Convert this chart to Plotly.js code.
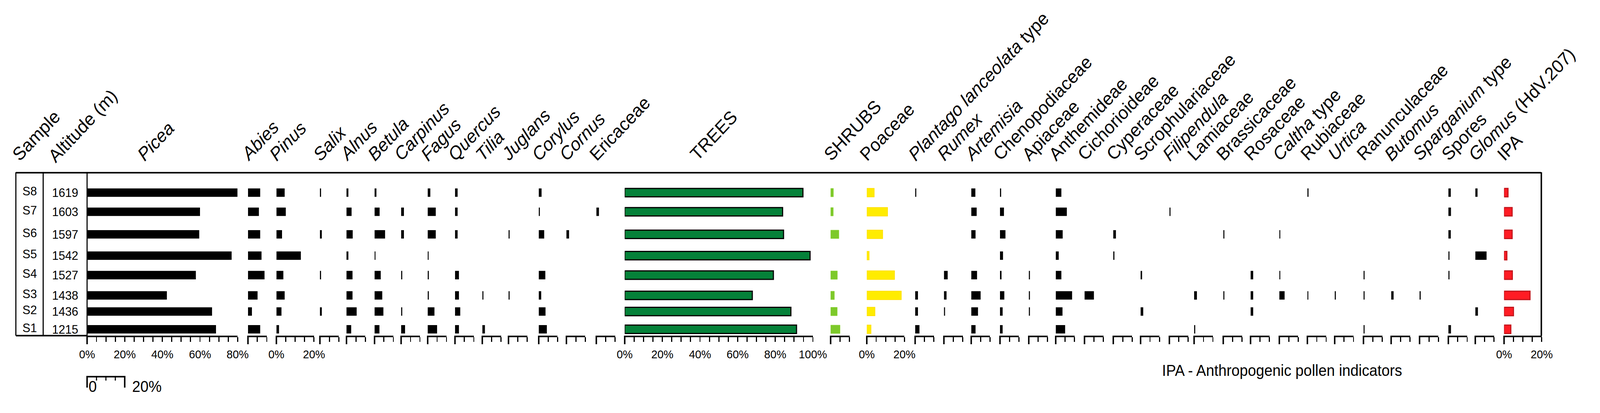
<!DOCTYPE html>
<html><head><meta charset="utf-8">
<script src="https://cdn.plot.ly/plotly-3.0.1.min.js"></script>
<style>html,body{margin:0;padding:0;background:#fff;overflow:hidden}#chart{transform-origin:0 0}</style>
</head><body><div id="chart" style="width:4336px;height:1057px"></div>
<script>
// ---- data (rows top to bottom: S8 ... S1) ----
const samples   = ['S8','S7','S6','S5','S4','S3','S2','S1'];
const altitudes = ['1619','1603','1597','1542','1527','1438','1436','1215'];
const rowPos    = [1.06, 2.06, 3.24, 4.35, 5.37, 6.43, 7.27, 8.2];

const picea     = [79.9,60,59.6,76.8,57.8,42.4,66.4,68.5];
const abies     = [6.5,5.8,6.5,7.2,8.8,5.1,2.1,6.5];
const pinus     = [4.4,5,3,13,3.7,4.4,2.7,1.4];
const salix     = [0.6,null,1,null,0.6,null,1,null];
const alnus     = [1,2.7,3.3,1,3.2,3.2,5.4,2.5];
const betula    = [1,2.7,5.6,0.5,3.3,4.1,4.7,2.6];
const carpinus  = [null,1.5,1.5,null,0.6,null,0.6,2.1];
const fagus     = [1.4,4.3,4.3,0.5,0.6,0.6,3.6,5];
const quercus   = [1.4,1.4,1.4,null,2.1,2.1,2.8,2.1];
const tilia     = [null,null,null,null,null,0.6,null,1.4];
const juglans   = [null,null,0.6,null,null,0.6,null,null];
const corylus   = [1.5,0.6,2.9,null,3.5,1.3,3.6,4.3];
const cornus    = [null,null,1.4,null,null,null,null,null];
const ericaceae = [null,1.4,null,null,null,null,null,null];
const trees     = [94.7,83.9,84.4,98.5,79,67.8,88.3,91.3];
const shrubs    = [1.5,1.4,4.4,null,3.6,2,3.5,5];
const poaceae   = [3.9,11,8.4,1.2,14.7,18.3,4.3,2.2];
const plantago  = [0.6,null,null,null,null,1.5,1.5,2.3];
const rumex     = [null,null,null,null,2,1.4,0.6,null];
const artemisia = [2.2,2.9,2.3,null,3.1,5,3.6,2.3];
const chenopod  = [0.6,2.1,2.9,1.6,0.8,2.3,1.4,1.4];
const apiaceae  = [null,null,null,null,0.6,0.6,0.6,null];
const anthemid  = [3,5.9,3.7,1.6,3,8.7,3.6,5];
const cichorio  = [null,null,null,null,null,5,null,null];
const cyperac   = [null,null,1.4,0.6,null,null,null,null];
const scrophul  = [null,null,null,null,0.8,null,1.4,null];
const filipend  = [null,0.6,null,null,null,null,null,null];
const lamiac    = [null,null,null,null,null,1.5,null,0.6];
const brassic   = [null,null,0.6,null,null,0.6,null,null];
const rosac     = [null,null,null,null,1.4,1.4,1.4,null];
const caltha    = [null,null,0.5,null,0.5,2.8,null,null];
const rubiac    = [0.6,null,null,null,null,0.5,null,null];
const urtica    = [null,null,null,null,null,0.6,null,null];
const ranunc    = [null,null,null,null,0.6,0.6,null,0.6];
const butomus   = [null,null,null,null,null,1.3,null,null];
const sparg     = [null,null,null,null,null,0.6,null,null];
const spores    = [1.3,1.4,1.3,0.6,0.6,null,null,1.4];
const glomus    = [1.2,null,null,6,null,null,1.4,null];
const ipa       = [2.1,4.3,4.3,1.5,4.4,13.8,5,3.6];

const taxaLabels = ['<i>Picea</i>','<i>Abies</i>','<i>Pinus</i>','<i>Salix</i>','<i>Alnus</i>','<i>Betula</i>','<i>Carpinus</i>','<i>Fagus</i>','<i>Quercus</i>','<i>Tilia</i>','<i>Juglans</i>','<i>Corylus</i>','<i>Cornus</i>','Ericaceae','TREES','SHRUBS','Poaceae','<i>Plantago lanceolata</i> type','<i>Rumex</i>','<i>Artemisia</i>','Chenopodiaceae','Apiaceae','Anthemideae','Cichorioideae','Cyperaceae','Scrophulariaceae','<i>Filipendula</i>','Lamiaceae','Brassicaceae','Rosaceae','<i>Caltha</i> type','Rubiaceae','<i>Urtica</i>','Ranunculaceae','<i>Butomus</i>','<i>Sparganium</i> type','Spores','<i>Glomus</i> (HdV.207)','IPA'];
const taxaValues = [picea,abies,pinus,salix,alnus,betula,carpinus,fagus,quercus,tilia,juglans,corylus,cornus,ericaceae,trees,shrubs,poaceae,plantago,rumex,artemisia,chenopod,apiaceae,anthemid,cichorio,cyperac,scrophul,filipend,lamiac,brassic,rosac,caltha,rubiac,urtica,ranunc,butomus,sparg,spores,glomus,ipa];
const axisMax  = [80,10,20,10,10,10,10,10,10,10,10,10,10,10,100,10,20,10,10,10,10,10,10,10,10,10,10,10,10,10,10,10,10,10,10,10,10,10,20];
const labelled = {0:20,2:20,14:20,16:20,38:20};

// ---- layout geometry (pixels) ----
const W=4336,H=1057, TOP=441, BOT=859, PXPCT=5.1;
const starts=[236,672,749,867,939,1015,1087,1159,1233,1307,1378,1460,1535,1616,1693,2251,2349,2480,2558,2632,2710,2788,2861,2939,3017,3091,3169,3236,3315,3389,3467,3543,3617,3695,3770,3847,3925,3998,4076];
const fills={14:['#058139','#000',3],15:['#7dc92a','#8fd43a',1],16:['#ffec00','#ffe000',2],38:['#ff1c24','#c3161c',3]};
const px=v=>v/W, py=v=>1-v/H;
const FONT='Liberation Sans, Arial, sans-serif';

const traces=[], layout={width:W,height:H,margin:{l:0,r:0,t:0,b:0},showlegend:false,autosize:false,
  paper_bgcolor:'#fff',plot_bgcolor:'rgba(0,0,0,0)',font:{family:FONT,color:'#000'},
  yaxis:{domain:[py(BOT),py(TOP)],range:[8.53,0],visible:false,fixedrange:true},
  shapes:[],annotations:[]};

taxaValues.forEach((vals,i)=>{
  const n=i+1, ax='x'+(n===1?'':n), key='xaxis'+(n===1?'':n);
  const w=axisMax[i]*PXPCT, s=starts[i];
  const f=fills[i]||['#000','#000',0];
  traces.push({type:'bar',orientation:'h',x:vals,y:rowPos,width:0.44,xaxis:ax,yaxis:'y',
    marker:{color:f[0],line:{color:f[1],width:f[2]}},hoverinfo:'x'});
  const lab=labelled[i];
  layout[key]={domain:[px(s),px(s+w)],range:[0,axisMax[i]],anchor:'y',fixedrange:true,
    showgrid:false,zeroline:false,showline:true,linewidth:4,linecolor:'#000',
    ticks:'outside',ticklen:12,tickwidth:3,tickcolor:'#000',
    dtick:lab?lab:5,tick0:0,showticklabels:!!lab,ticksuffix:'%',ticklabelstandoff:6,
    tickfont:{size:30,family:FONT},
    minor:lab?{dtick:5,ticks:'outside',ticklen:12,tickwidth:3,tickcolor:'#000'}:undefined};
  layout.shapes.push({type:'line',xref:'paper',yref:'paper',x0:px(s),x1:px(s),y0:py(BOT),y1:py(881),line:{width:4,color:'#000'}});
  const sx = w>300 ? s+0.4*w : s+8;
  layout.annotations.push({xref:'paper',yref:'paper',x:px(sx-40),y:py(424),xanchor:'left',yanchor:'bottom',
    text:taxaLabels[i],textangle:-45,showarrow:false,font:{size:47}});
});

// frame
const L=(x0,y0,x1,y1,w)=>layout.shapes.push({type:'line',xref:'paper',yref:'paper',x0:px(x0),x1:px(x1),y0:py(y0),y1:py(y1),line:{width:w,color:'#000'}});
L(43,442,4177,442,4); L(43,441,43,859,3); L(117,441,117,859,3); L(236,441,236,859,3);
L(4177,441,4177,859,4); L(43,859,236,859,4);
// scale bar 0-20%
L(236,964,338,964,4); L(236,962,236,992,4); L(338,962,338,992,4);
[5,10,15].forEach(p=>L(236+p*PXPCT,964,236+p*PXPCT,974,3));

layout.annotations.push({xref:'paper',yref:'paper',x:px(20),y:py(424),xanchor:'left',yanchor:'bottom',text:'Sample',textangle:-45,showarrow:false,font:{size:47}});
layout.annotations.push({xref:'paper',yref:'paper',x:px(118),y:py(428),xanchor:'left',yanchor:'bottom',text:'Altitude (m)',textangle:-45,showarrow:false,font:{size:47}});
samples.forEach((s,i)=>{
  layout.annotations.push({xref:'paper',yref:'paper',x:px(80),y:py(441+rowPos[i]*49-4),xanchor:'center',yanchor:'middle',text:s,showarrow:false,font:{size:32}});
  layout.annotations.push({xref:'paper',yref:'paper',x:px(176),y:py(441+rowPos[i]*49),xanchor:'center',yanchor:'middle',text:altitudes[i],showarrow:false,font:{size:32}});
});
layout.annotations.push({xref:'paper',yref:'paper',x:px(238),y:py(1013),text:'0',showarrow:false,font:{size:40}});
layout.annotations.push({xref:'paper',yref:'paper',x:px(356),y:py(1013),text:'20%',showarrow:false,font:{size:40}});
layout.annotations.push({xref:'paper',yref:'paper',x:px(3802),y:py(972),text:'IPA - Anthropogenic pollen indicators',showarrow:false,font:{size:40}});

const el=document.getElementById('chart');
const sx=(window.innerWidth||W)/W, sy=(window.innerHeight||H)/H;
if(Math.abs(sx-1)>0.002||Math.abs(sy-1)>0.002) el.style.transform='scale('+sx+','+sy+')';
Plotly.newPlot('chart',traces,layout,{staticPlot:true});
</script></body></html>
